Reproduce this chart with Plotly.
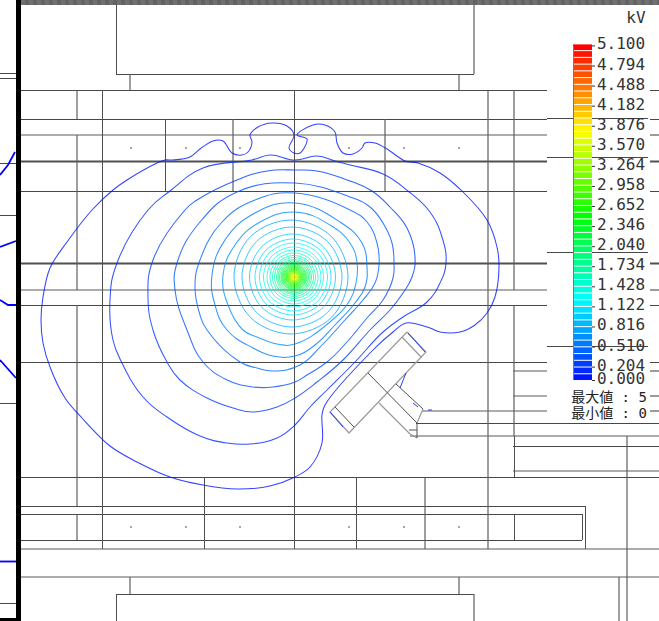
import plotly.graph_objects as go

# ---------- legend ----------
level_step = 0.102
level_count = 50
legend_ticks = ["5.100","4.794","4.488","4.182","3.876","3.570","3.264","2.958","2.652",
                "2.346","2.040","1.734","1.428","1.122","0.816","0.510","0.204","0.000"]
unit_label = "kV"
max_label = "最大値 : 5"
min_label = "最小値 : 0"

# ---------- drawing lines: (fixed, start, end) ----------
h_dark = [(74,116,474),(90,21,547),(90,650,659),(119,21,547),(119,650,659),(191,21,547),(191,650,659),
          (305,21,547),(305,650,659),(362,21,547),(362,650,659),(423,416,659),(446,513,659),
          (477,21,659),(506,21,585),(514,21,582),(540,21,582),(594,116,474),
          (157,547,573),(157,592,648),(252,547,573),(252,592,648),(346,547,573),(346,592,648),
          (118,547,573),(118,592,648)]
h_gray = [(135,21,547),(135,650,659),(290,21,547),(290,650,659),(371,513,547),(371,650,659),
          (396,513,547),(396,650,659),(411,422,547),(411,650,659),(436,410,659),(471,513,659),
          (549,21,659),(577,21,659)]
h_thick = [(161,21,547),(161,650,659),(263,21,547),(263,650,659)]
v_dark = [(102,90,549),(165,119,191),(294,90,549),(356,477,549),(514,436,477),(514,514,540),(204,477,549),
          (116,5,74),(116,594,621),(582,514,540),(585,506,549)]
v_gray = [(77,90,119),(77,135,290),(77,305,506),(77,514,540),(233,119,191),(385,119,191),(488,90,549),
          (514,90,290),(514,305,436),(425,477,549),(627,436,621),(619,577,621),(130,74,90),(130,577,594),
          (459,74,90),(459,577,594),(474,5,74),(474,594,621)]
left_panel_h = [(73,0,16),(78,0,16),(163,0,16),(215,0,16),(403,0,16),(603,0,16)]

dots_x = [131,186,240,349,404,459,131,186,240,349,404,459]
dots_y = [148,148,148,148,148,148,527,527,527,527,527,527]

# T-shaped electrode outline
t_gray = [[(407,332),(426,352),(349,433),(330,412),(407,332)],[(402,337),(421,357)],[(379,403),(410,434)],
          [(423,409),(417,423)],[(410,434),(417,438)]]
t_dark = [[(335,407),(354,427)],[(368,373),(417,423)],[(396,384),(423,409)],[(417,423),(417,438)],[(409,430),(417,430)]]

# ---------- potential contours (outer ones traced, level 1..7) ----------
ring1 = [(41,320),(43,297),(50,268),(67,242),(92,210),(113,190),(127,180),(157,163),(165,160),(173,160),(190,157),
         (200,149),(213,141),(223,141),(232,153),(242,155),(248,152),(252,142),(250,135),(258,127),(272,123),(287,126),
         (294,135),(289,148),(294,153),(300,153),(307,139),(297,135),(313,125),(325,125),(335,132),(337,143),(343,153),
         (353,154),(362,148),(365,143),(375,143),(387,149),(405,161),(418,163),(440,173),(463,192),(487,220),(497,247),
         (499,267),(495,297),(487,313),(475,325),(460,332),(440,332),(430,328),(406,323),(393,332),(373,350),(325,405),
         (322,415),(322,443),(310,467),(295,477),(270,486),(237,489),(203,485),(170,477),(137,462),(110,446),(82,418),(65,398),
         (50,367),(43,343),(41,320)]
ring2 = [(110,300),(117,263),(148,210),(170,191),(203,168),(252,160),(270,155),(295,160),(317,156),(335,161),(350,165),
         (383,174),(408,191),(430,212),(442,237),(446,263),(440,283),(427,302),(403,317),(383,332),(355,362),
         (327,390),(310,407),(295,425),(277,438),(250,444),(227,443),(200,436),(167,417),(143,397),(122,363),(113,340),(110,300)]
ring3 = [(148,297),(153,260),(185,210),(197,200),(237,180),(267,171),(295,170),(317,171),(350,181),(372,191),(390,207),
         (407,228),(415,257),(412,277),(403,293),(390,310),(370,330),(343,360),(317,382),(295,398),(277,407),
         (253,412),(233,408),(207,398),(180,380),(167,362),(153,330),(148,297)]
ring4 = [(175,290),(177,263),(200,222),(237,192),(295,183),(350,197),(370,207),(383,223),(392,243),(394,263),(393,278),
         (383,300),(367,318),(347,342),(327,362),(307,375),(295,382),(273,387),(253,387),(227,380),(203,362),(187,330),(175,290)]
ring5 = [(195,287),(200,260),(222,222),(255,200),(295,193),(350,210),(367,222),(377,243),(379,265),(375,283),(363,300),
         (345,320),(322,345),(300,365),(273,371),(257,368),(240,362),(207,330),(200,315),(195,287)]
ring6 = [(212,275),(225,240),(255,213),(295,203),(340,222),(362,243),(367,267),(365,287),(355,303),(335,325),(315,345),
         (295,356),(273,356),(253,348),(227,330),(215,305),(212,275)]
ring7 = [(223,275),(235,245),(260,222),(295,212),(330,225),(350,243),(357,262),(356,283),(350,300),(330,322),(295,344),
         (277,344),(257,337),(243,330),(228,305),(223,275)]
traced_rings = [ring1,ring2,ring3,ring4,ring5,ring6,ring7]

# inner near-circular contours, level 8 upward
ring_center = (294,277)
ring_radius = [57,50,43,38,34,30,27,24,21.5,19.5,17.5,16,14.5,13,12,11,10,9,8,7.3,6.6,6,5.4,4.8,4.2,3.7,3.2,2.7,2.2,1.8,1.4,1]
ring_shift = [-3,-2,-1.5,-1,-.5,-.5,0,0,0,0,0,0,0,0,0,0,0,0,0,0,0,0,0,0,0,0,0,0,0,0,0,0]
compass_x = [1,.92,.71,.38,0,-.38,-.71,-.92,-1,-.92,-.71,-.38,0,.38,.71,.92,1]
compass_y = [0,.38,.71,.92,1,.92,.71,.38,0,-.38,-.71,-.92,-1,-.92,-.71,-.38,0]

# fragments around the electrode and in the clipped left panel
fragments = [[(408,333),(425,352)],[(330,412),(343,427)],[(406,373),(400,388)],[(413,403),(418,407)],[(428,410),(432,410)]]
left_blue = [[(0,175),(8,165),(15,152)],[(0,247),(16,241)],[(0,300),(8,305),(16,305)],[(0,360),(12,373),(16,378)],[(0,561.5),(16,561.5)]]


def ramp(v):
    t = max(0,min(1,v/5.1))*4
    stops = [(0,0,255),(0,255,255),(0,255,0),(255,255,0),(255,0,0)]
    i = min(int(t),3); f = t-i
    a,b = stops[i],stops[i+1]
    return "rgb(%d,%d,%d)"%tuple(round(a[k]+(b[k]-a[k])*f) for k in range(3))

fig = go.Figure()

def add_path(xs,ys,color,width,shape="linear",smooth=None,dash=None,opacity=1):
    line = dict(color=color,width=width,shape=shape)
    if smooth: line["smoothing"] = smooth
    if dash: line["dash"] = dash
    fig.add_trace(go.Scatter(x=xs,y=ys,mode="lines",line=line,opacity=opacity,hoverinfo="skip"))

def add_h(rows,color,width,off):
    xs,ys=[],[]
    for y,a,b in rows:
        xs+=[a,b,None]; ys+=[y+off,y+off,None]
    add_path(xs,ys,color,width)

def add_v(rows,color,width,off):
    xs,ys=[],[]
    for x,a,b in rows:
        xs+=[x+off,x+off,None]; ys+=[a,b,None]
    add_path(xs,ys,color,width)

def add_polys(polys,color,width):
    xs,ys=[],[]
    for p in polys:
        xs+=[q[0] for q in p]+[None]; ys+=[q[1] for q in p]+[None]
    add_path(xs,ys,color,width)

add_h(h_dark,"#474747",1,.5)
add_h(h_gray,"#5a5a5a",1.2,0)
add_h(h_thick,"#505050",2,.5)
add_v(v_dark,"#505050",1,.5)
add_v(v_gray,"#5e5e5e",1.2,0)
add_h(left_panel_h,"#474747",1,.5)
add_polys(t_gray,"#9a9a9a",1.2)
add_polys(t_dark,"#505050",1)

# top strip, dividing bar
add_path([21,659],[2.5,2.5],"#636363",5)
add_path([21,659],[2.5,2.5],"#707070",5,dash="4px,4px")
add_path([18.5,18.5],[0,621],"#000000",5)
add_path([0,16],[619.5,619.5],"#000000",3)

fig.add_trace(go.Scatter(x=dots_x,y=dots_y,mode="markers",marker=dict(size=2,color="#8a8a8a"),hoverinfo="skip"))

# contours
for n,ring in enumerate(traced_rings,1):
    add_path([p[0] for p in ring],[p[1] for p in ring],ramp(n*level_step),1.05,"spline",1.0 if n==1 else 1.25,opacity=.8)
for k,(r,dx) in enumerate(zip(ring_radius,ring_shift)):
    n = k+8
    xs=[ring_center[0]+dx+r*c for c in compass_x]
    ys=[ring_center[1]+r*s for s in compass_y]
    add_path(xs,ys,ramp(n*level_step),0.9,"spline",1,opacity=.85)
add_polys(fragments,"rgb(40,60,255)",1)
add_polys(left_blue,"rgb(0,0,255)",1.8)

# legend colour bar
levels=[i*level_step for i in range(level_count)]
px_per_kv=66
fig.add_trace(go.Bar(x=[582.5]*level_count,base=[380-v*px_per_kv for v in levels],
                     y=[-(level_step*px_per_kv-1)]*level_count,width=19,
                     marker=dict(color=[ramp(v+level_step) for v in levels],line=dict(width=0)),hoverinfo="skip"))
add_path([573.5,573.5],[46,380],"#777777",1)

tick_vals=[float(t) for t in legend_ticks]
label_scale=65.6
label_y=[380-v*label_scale for v in tick_vals]
xs,ys=[],[]
for y in label_y:
    xs+=[592,595,None]; ys+=[y+.5,y+.5,None]
add_path(xs,ys,"#333333",1)
fig.add_trace(go.Scatter(x=[621]*len(legend_ticks),y=label_y,mode="text",text=legend_ticks,textposition="middle center",
                         textfont=dict(family="DejaVu Sans Mono",size=16,color="#333333"),hoverinfo="skip"))
mono="DejaVu Sans Mono, Noto Sans CJK JP"
fig.add_trace(go.Scatter(x=[636],y=[19],mode="text",text=[unit_label],
                         textposition="middle center",textfont=dict(family="DejaVu Sans Mono",size=16,color="#333333"),hoverinfo="skip"))
fig.add_trace(go.Scatter(x=[609,609],y=[398,414],mode="text",text=[max_label,min_label],
                         textposition="middle center",textfont=dict(family=mono,size=14,color="#222222"),hoverinfo="skip"))

fig.update_layout(width=659,height=621,margin=dict(l=0,r=0,t=0,b=0),paper_bgcolor="white",plot_bgcolor="white",
                  showlegend=False,barmode="overlay",
                  xaxis=dict(range=[0,659],visible=False,fixedrange=True),
                  yaxis=dict(range=[621,0],visible=False,fixedrange=True))
fig.write_html("out.html",config=dict(displayModeBar=False),
               post_script="document.body.style.margin='0';document.body.style.overflow='hidden';")
